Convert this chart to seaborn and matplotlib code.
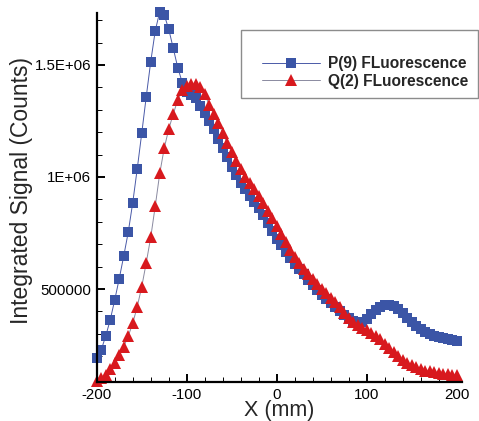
import numpy as np
import pandas as pd
import matplotlib
matplotlib.use("Agg")
import matplotlib.pyplot as plt
import seaborn as sns
from matplotlib.ticker import FixedLocator, FixedFormatter, MultipleLocator
from matplotlib.patches import Rectangle

# ---- data ----
x_mm = list(range(-200, 201, 5))

p9_fluorescence = [
    193e3, 228e3, 290e3, 362e3, 451e3, 546e3, 647e3, 753e3, 885e3, 1036e3,   # -200..-155
    1195e3, 1358e3, 1515e3, 1652e3, 1738e3, 1723e3, 1659e3, 1574e3, 1488e3, 1421e3,  # -150..-105
    1381e3, 1366e3, 1352e3, 1318e3, 1285e3, 1250e3, 1215e3, 1170e3, 1130e3, 1090e3,  # -100..-55
    1045e3, 1010e3, 975e3, 945e3, 915e3, 890e3, 860e3, 830e3, 795e3, 760e3,  # -50..-5
    725e3, 695e3, 665e3, 640e3, 612e3, 588e3, 565e3, 540e3, 518e3, 497e3,  # 0..45
    475e3, 455e3, 436e3, 418e3, 400e3, 385e3, 370e3, 357e3, 348e3, 352e3,  # 50..95
    368e3, 390e3, 408e3, 420e3, 427e3, 428e3, 422e3, 410e3, 392e3, 372e3,  # 100..145
    352e3, 336e3, 320e3, 307e3, 298e3, 292e3, 287e3, 282e3, 277e3, 272e3,  # 150..195
    266e3,  # 200
]

q2_fluorescence = [
    90e3, 101e3, 116e3, 142e3, 171e3, 205e3, 242e3, 290e3, 347e3, 421e3,   # -200..-155
    510e3, 617e3, 731e3, 870e3, 1016e3, 1129e3, 1214e3, 1281e3, 1344e3, 1388e3,  # -150..-105
    1406e3, 1415e3, 1415e3, 1400e3, 1370e3, 1320e3, 1280e3, 1240e3, 1195e3, 1150e3,  # -100..-55
    1110e3, 1070e3, 1035e3, 1000e3, 975e3, 945e3, 915e3, 885e3, 850e3, 815e3,  # -50..-5
    780e3, 745e3, 710e3, 675e3, 645e3, 615e3, 590e3, 568e3, 545e3, 522e3,  # 0..45
    500e3, 480e3, 460e3, 440e3, 420e3, 395e3, 370e3, 352e3, 338e3, 326e3,  # 50..95
    315e3, 303e3, 290e3, 275e3, 255e3, 238e3, 218e3, 200e3, 185e3, 172e3,  # 100..145
    160e3, 150e3, 142e3, 136e3, 132e3, 128e3, 125e3, 122e3, 120e3, 118e3,  # 150..195
    115e3,  # 200
]

series_labels = ["P(9) FLuorescence", "Q(2) FLuorescence"]
x_ticks = [-200, -100, 0, 100, 200]
x_tick_labels = ["-200", "-100", "0", "100", "200"]
y_ticks = [500000, 1000000, 1500000]
y_tick_labels = ["500000", "1E+06", "1.5E+06"]

# ---- style ----
sns.set_style("ticks")
plt.rcParams["font.family"] = ["Liberation Sans", "DejaVu Sans"]

fig = plt.figure(figsize=(4.79, 4.21), dpi=100)
ax_left, ax_right, ax_top, ax_bottom = 96.7, 461.5, 12.7, 382.0
ax = fig.add_axes([ax_left / 479, 1 - ax_bottom / 421, (ax_right - ax_left) / 479,
                   (ax_bottom - ax_top) / 421])

blue = "#3b55a6"
red = "#d8191e"

sns.lineplot(x=x_mm, y=p9_fluorescence, ax=ax, color="#4a5aa8", linewidth=0.7,
             marker="s", markersize=6.8, markerfacecolor=blue, markeredgecolor=blue,
             markeredgewidth=0, clip_on=False, label=series_labels[0], sort=False)
sns.lineplot(x=x_mm, y=q2_fluorescence, ax=ax, color="#8a8aa0", linewidth=0.7,
             marker="^", markersize=8.0, markerfacecolor=red, markeredgecolor=red,
             markeredgewidth=0, clip_on=False, label=series_labels[1], sort=False)

ax.set_xlim(-200, 205)
ax.set_ylim(85000, 1.733e6)

ax.xaxis.set_major_locator(FixedLocator(x_ticks))
ax.xaxis.set_major_formatter(FixedFormatter(x_tick_labels))
ax.xaxis.set_minor_locator(MultipleLocator(20))
ax.yaxis.set_major_locator(FixedLocator(y_ticks))
ax.yaxis.set_major_formatter(FixedFormatter(y_tick_labels))
ax.yaxis.set_minor_locator(MultipleLocator(100000))

for s in ["top", "right"]:
    ax.spines[s].set_visible(False)
for s in ["left", "bottom"]:
    ax.spines[s].set_linewidth(1.6)
    ax.spines[s].set_color("black")

ax.tick_params(which="major", direction="in", length=6, width=1.4, labelsize=10.8,
               colors="black", pad=4)
ax.tick_params(which="minor", direction="in", length=3.5, width=0.7, colors="black")

ax.set_xlabel("X (mm)", fontsize=15.5, labelpad=-1)
ax.set_ylabel("Integrated Signal (Counts)", fontsize=16.5)
# right edge of the rotated label at ~x=32 px, centred at y~190 px
ax.yaxis.set_label_coords(-(ax_left - 33) / (ax_right - ax_left),
                          (ax_bottom - 190) / (ax_bottom - ax_top))

# legend
leg = ax.legend(loc="center left", bbox_to_anchor=(261.7 / 479, 1 - 72.5 / 421),
                bbox_transform=fig.transFigure, frameon=False, borderpad=0,
                borderaxespad=0, handlelength=3.75, handletextpad=0.5,
                labelspacing=0.18, prop={"size": 11.2, "weight": "bold"})
fig.add_artist(Rectangle((240.7 / 479, 1 - 98 / 421), (478 - 240.7) / 479, (98 - 30) / 421,
                         transform=fig.transFigure, fill=False, edgecolor="#8c8c8c",
                         linewidth=1.0))

fig.savefig("out.png", dpi=100)
